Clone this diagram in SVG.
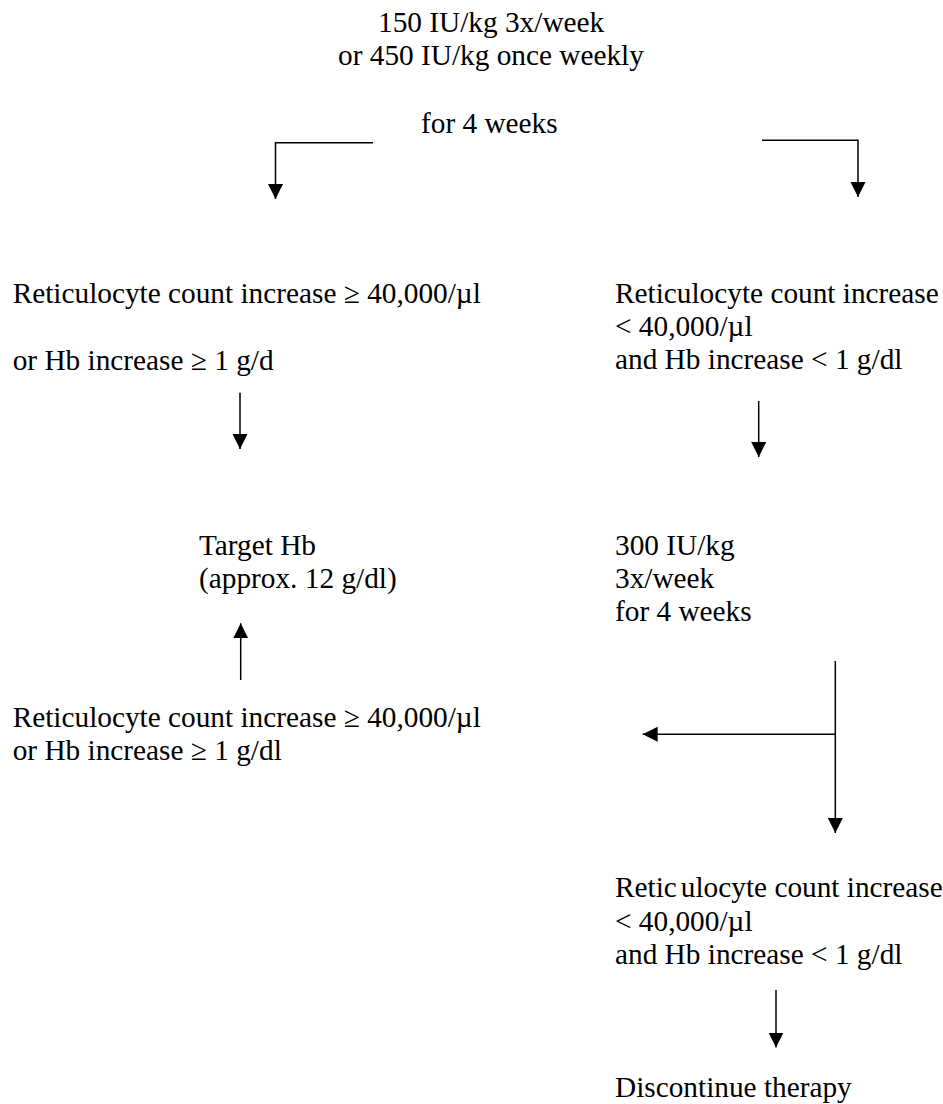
<svg xmlns="http://www.w3.org/2000/svg" width="943" height="1104" viewBox="0 0 943 1104">
<style>
text { font-family: "Liberation Serif", "Times New Roman", serif; font-size: 29.3px; fill: #000; }
.ln { fill: none; stroke: #000; stroke-width: 1.5; }
.ar { marker-end: url(#head); }
</style>
<defs>
<marker id="head" markerUnits="userSpaceOnUse" markerWidth="16" markerHeight="16" refX="15" refY="7.5" orient="auto">
<path d="M0,0 L15,7.5 L0,15 Z" fill="#000"/>
</marker>
</defs>
<rect width="943" height="1104" fill="#fff"/>
<g id="start">
<text x="378" y="32">150 IU/kg 3x/week</text>
<text x="338" y="65">or 450 IU/kg once weekly</text>
<text x="421" y="133">for 4 weeks</text>
</g>
<g id="response1">
<text x="12.7" y="303">Reticulocyte count increase ≥ 40,000/µl</text>
<text x="12.7" y="370">or Hb increase ≥ 1 g/d</text>
</g>
<g id="noresponse1">
<text x="615" y="303">Reticulocyte count increase</text>
<text x="615" y="336">&lt; 40,000/µl</text>
<text x="615" y="369">and Hb increase &lt; 1 g/dl</text>
</g>
<g id="target">
<text x="199" y="555">Target Hb</text>
<text x="199" y="588">(approx. 12 g/dl)</text>
</g>
<g id="dose300">
<text x="615" y="555">300 IU/kg</text>
<text x="615" y="588">3x/week</text>
<text x="615" y="621">for 4 weeks</text>
</g>
<g id="response2">
<text x="12.7" y="727">Reticulocyte count increase ≥ 40,000/µl</text>
<text x="12.7" y="760">or Hb increase ≥ 1 g/dl</text>
</g>
<g id="noresponse2">
<text x="615" y="897">Retic<tspan dx="4">ulocyte count increase</tspan></text>
<text x="615" y="931">&lt; 40,000/µl</text>
<text x="615" y="964">and Hb increase &lt; 1 g/dl</text>
</g>
<g id="discontinue">
<text x="615" y="1097">Discontinue therapy</text>
</g>
<g id="connectors">
<path class="ln ar" d="M373,142.7 H275.5 V199"/>
<path class="ln ar" d="M762,140.3 H858 V197"/>
<path class="ln ar" d="M240,392.7 V449"/>
<path class="ln ar" d="M758.7,401 V457"/>
<path class="ln ar" d="M240.7,680 V623.3"/>
<path class="ln ar" d="M835.3,661 V833"/>
<path class="ln ar" d="M835.3,734.3 H642.7"/>
<path class="ln ar" d="M776,990 V1047.5"/>
</g>
</svg>
